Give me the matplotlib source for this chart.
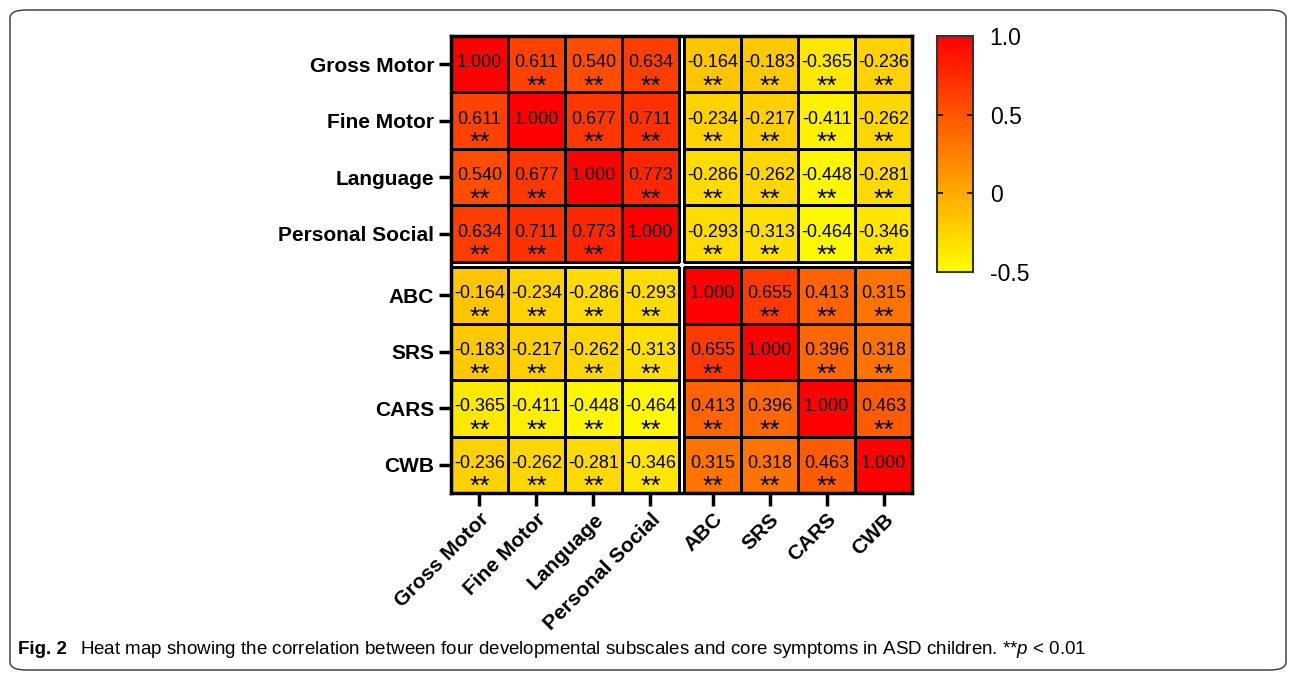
import matplotlib
matplotlib.use("Agg")
import matplotlib.pyplot as plt
import numpy as np
from matplotlib.colors import LinearSegmentedColormap, Normalize
from matplotlib.patches import FancyBboxPatch

plt.rcParams['font.family'] = ['Liberation Sans', 'DejaVu Sans']
plt.rcParams['mathtext.fontset'] = 'custom'
plt.rcParams['mathtext.it'] = 'Liberation Sans:italic'
plt.rcParams['mathtext.rm'] = 'Liberation Sans'

# Variables (rows / columns)
labels = ["Gross Motor", "Fine Motor", "Language", "Personal Social",
          "ABC", "SRS", "CARS", "CWB"]

# Correlation matrix
corr = np.array([
    [1.000, 0.611, 0.540, 0.634, -0.164, -0.183, -0.365, -0.236],
    [0.611, 1.000, 0.677, 0.711, -0.234, -0.217, -0.411, -0.262],
    [0.540, 0.677, 1.000, 0.773, -0.286, -0.262, -0.448, -0.281],
    [0.634, 0.711, 0.773, 1.000, -0.293, -0.313, -0.464, -0.346],
    [-0.164, -0.234, -0.286, -0.293, 1.000, 0.655, 0.413, 0.315],
    [-0.183, -0.217, -0.262, -0.313, 0.655, 1.000, 0.396, 0.318],
    [-0.365, -0.411, -0.448, -0.464, 0.413, 0.396, 1.000, 0.463],
    [-0.236, -0.262, -0.281, -0.346, 0.315, 0.318, 0.463, 1.000],
])
# significance marks (** p < 0.01) for every off-diagonal cell
signif = np.where(np.eye(8, dtype=bool), "", "**")

caption_bold = "Fig. 2"
caption_text = ("Heat map showing the correlation between four developmental subscales "
                "and core symptoms in ASD children. **$\\it{p}$ < 0.01")

cmap = LinearSegmentedColormap.from_list("yr", ["#FFFF00", "#FF0000"])
norm = Normalize(vmin=-0.5, vmax=1.0)

fig = plt.figure(figsize=(12.96, 6.8), dpi=100)

# rounded frame around the figure
frame = FancyBboxPatch((10 / 1296, 10 / 680), 1276 / 1296, 660 / 680,
                       boxstyle="round,pad=0,rounding_size=0.012",
                       transform=fig.transFigure, fill=False,
                       edgecolor="#333333", linewidth=1.0)
fig.patches.append(frame)

ax = fig.add_axes([451 / 1296, 1 - 493 / 680, 461 / 1296, 457 / 680])

gap = 0.09
edges = np.array([0, 1, 2, 3, 4])
mesh = None
for bi in range(2):
    for bj in range(2):
        xe = edges + bj * (4 + gap)
        ye = edges + bi * (4 + gap)
        block = corr[bi * 4:(bi + 1) * 4, bj * 4:(bj + 1) * 4]
        mesh = ax.pcolormesh(xe, ye, block, cmap=cmap, norm=norm,
                             edgecolors="black", linewidth=1.0)

centers = np.array([i + 0.5 + (gap if i >= 4 else 0) for i in range(8)])
for i in range(8):
    for j in range(8):
        x, y = centers[j], centers[i]
        ax.text(x, y - 0.03, f"{corr[i, j]:.3f}", ha="center", va="center",
                fontsize=13)
        if signif[i, j]:
            ax.text(x, y + 0.40, signif[i, j], ha="center", va="center",
                    fontsize=19)

ax.set_xlim(0, 8 + gap)
ax.set_ylim(8 + gap, 0)
ax.set_xticks(centers)
ax.set_yticks(centers)
ax.set_xticklabels(labels, rotation=45, ha="right", rotation_mode="anchor",
                   fontsize=15, fontweight="bold")
ax.set_yticklabels(labels, fontsize=15, fontweight="bold")
ax.tick_params(axis="both", length=9, width=2.5, pad=3)
for s in ax.spines.values():
    s.set_linewidth(2.5)

cax = fig.add_axes([937 / 1296, 1 - 272 / 680, 36 / 1296, 236 / 680])
cb = fig.colorbar(mesh, cax=cax, ticks=[-0.5, 0, 0.5, 1.0])
cb.ax.set_yticklabels(["-0.5", "0", "0.5", "1.0"])
cb.ax.tick_params(direction="in", left=True, right=True, length=4,
                  width=1.2, labelsize=16.5, pad=12)
cb.outline.set_linewidth(1.5)
cb.outline.set_edgecolor("#333333")

fig.text(18 / 1296, 1 - 650 / 680, caption_bold, fontsize=13.5,
         fontweight="bold", va="center")
fig.text(80 / 1296, 1 - 650 / 680, caption_text, fontsize=13.5, va="center")

fig.savefig("out.png", dpi=100)
